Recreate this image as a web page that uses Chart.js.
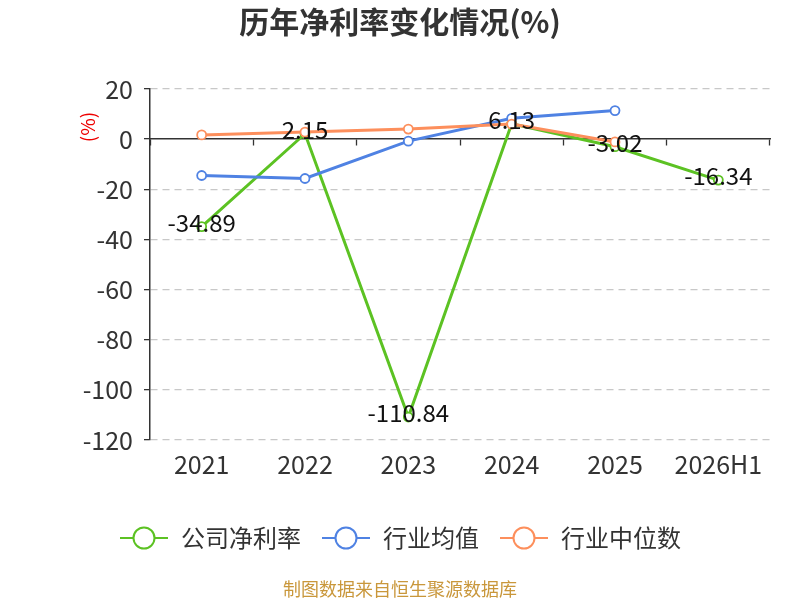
<!DOCTYPE html>
<html><head><meta charset="utf-8">
<script src="https://cdn.jsdelivr.net/npm/chart.js@4"></script>
<style>html,body{margin:0;padding:0;background:#fff}#wrap{width:800px;height:600px}</style>
</head><body><div id="wrap"><canvas id="c" width="800" height="600"></canvas></div>
<script>
const categories = ['2021','2022','2023','2024','2025','2026H1'];
const companyNetMargin = [-34.89, 2.15, -110.84, 6.13, -3.02, -16.34];
const industryAverage = [-14.5, -15.7, -0.8, 8.3, 11.4, null];
const industryMedian = [1.7, 2.8, 4.0, 6.0, -1.1, null];
const seriesNames = ['公司净利率','行业均值','行业中位数'];
const seriesColors = ['#5cc223','#4f82e3','#fd8f5c'];
const yTicks = [20, 0, -20, -40, -60, -80, -100, -120];

const FONT = '"Noto Sans CJK SC","Noto Sans",sans-serif';

function legendIcon(color){
  const c = document.createElement('canvas');
  c.width = 50; c.height = 26;
  const g = c.getContext('2d');
  g.strokeStyle = color; g.lineWidth = 2;
  g.beginPath(); g.moveTo(1,13); g.lineTo(49,13); g.stroke();
  g.beginPath(); g.arc(25,13,10.5,0,Math.PI*2); g.fillStyle='#fff'; g.fill(); g.stroke();
  return c;
}
const icons = seriesColors.map(legendIcon);

const overlay = {
  id:'overlay',
  afterDatasetsDraw(chart){
    const ctx = chart.ctx;
    const meta = chart.getDatasetMeta(0);
    ctx.save();
    ctx.font = '24px ' + FONT;
    ctx.fillStyle = '#111';
    ctx.textAlign = 'center';
    ctx.textBaseline = 'middle';
    meta.data.forEach((p,i)=>{
      const v = companyNetMargin[i];
      if (v === null) return;
      ctx.fillText(v.toFixed(2), p.x, p.y - 4);
    });
    ctx.restore();
  },
  afterDraw(chart){
    const ctx = chart.ctx;
    ctx.save();
    ctx.font = 'bold 30px ' + FONT;
    ctx.fillStyle = '#333';
    ctx.textAlign = 'center';
    ctx.textBaseline = 'middle';
    ctx.fillText('历年净利率变化情况(%)', 400, 22);
    ctx.restore();
    ctx.save();
    ctx.translate(88, 127);
    ctx.rotate(-Math.PI/2);
    ctx.font = '19px ' + FONT;
    ctx.fillStyle = '#e00';
    ctx.textAlign = 'center';
    ctx.textBaseline = 'middle';
    ctx.fillText('(%)', 0, 0);
    ctx.restore();
    ctx.save();
    ctx.font = '18px ' + FONT;
    ctx.fillStyle = '#c9973b';
    ctx.textAlign = 'center';
    ctx.textBaseline = 'middle';
    ctx.fillText('制图数据来自恒生聚源数据库', 400, 589);
    ctx.restore();
  }
};

function ds(label, data, color, order){
  return {label, data, borderColor:color, backgroundColor:'#fff', borderWidth:3,
    pointRadius:4.5, pointBorderWidth:1.8, pointBackgroundColor:'#fff', pointBorderColor:color,
    tension:0, spanGaps:false, order, xAxisID:'x', yAxisID:'y'};
}

new Chart(document.getElementById('c'), {
  type:'line',
  data:{
    labels: categories,
    datasets:[
      ds(seriesNames[0], companyNetMargin, seriesColors[0], 2),
      ds(seriesNames[1], industryAverage, seriesColors[1], 1),
      ds(seriesNames[2], industryMedian, seriesColors[2], 0)
    ]
  },
  options:{
    responsive:false, animation:false,
    layout:{padding:{left:0,right:0,top:89,bottom:40}},
    plugins:{
      tooltip:{enabled:false},
      title:{display:false},
      legend:{position:'bottom',
        labels:{usePointStyle:true, pointStyleWidth:50, boxHeight:24, color:'#333',
          font:{size:24, family:FONT}, padding:20,
          generateLabels(chart){
            return chart.data.datasets.map((d,i)=>({text:d.label, pointStyle:icons[i],
              fillStyle:'#fff', strokeStyle:d.borderColor, lineWidth:0, hidden:false,
              datasetIndex:i, fontColor:'#333'}));
          }}}
    },
    scales:{
      y:{type:'linear', min:-120, max:20, position:'left',
        afterFit(s){ s.width = 150; },
        ticks:{stepSize:20, color:'#333', font:{size:25, family:FONT}, padding:11},
        grid:{color:(c)=> c.tick && c.tick.value===0 ? 'rgba(0,0,0,0)' : '#c8c8c8', lineWidth:1.3,
          tickColor:'#333', tickLength:6, tickWidth:1.3},
        border:{display:true, color:'#333', width:1.5, dash:[7,5]}
      },
      yR:{type:'linear', position:'right', min:-120, max:20,
        afterFit(s){ s.width = 30; },
        ticks:{display:false}, grid:{display:false, drawTicks:false}, border:{display:false}
      },
      x:{type:'category', position:{y:0}, offset:true,
        ticks:{display:false},
        grid:{display:true, offset:true, drawOnChartArea:false, drawTicks:true, tickLength:6,
          tickColor:'#333', tickWidth:1.3},
        border:{display:true, color:'#333', width:1.5}
      },
      x2:{type:'category', position:'bottom', offset:true, labels:categories,
        afterFit(s){ s.height = 66; },
        ticks:{color:'#333', font:{size:25, family:FONT}, padding:9, maxRotation:0},
        grid:{display:false, drawTicks:false},
        border:{display:false}
      }
    }
  },
  plugins:[overlay]
});
</script>
</body></html>
